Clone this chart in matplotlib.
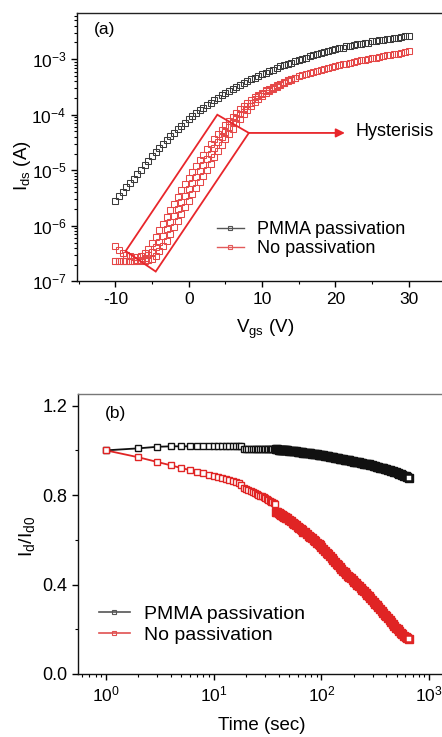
import numpy as np
import matplotlib
matplotlib.use('Agg')
import matplotlib.pyplot as plt
from matplotlib.lines import Line2D
from matplotlib.patches import Polygon
from matplotlib.ticker import MultipleLocator, LogLocator, NullFormatter, FormatStrFormatter

plt.rcParams['font.family'] = ['Liberation Sans', 'DejaVu Sans']
plt.rcParams['mathtext.default'] = 'regular'
plt.rcParams['axes.unicode_minus'] = False

# ---- panel (a): transfer curves, gate sweep in 0.5 V steps ----
vgs = [-10, -9.5, -9, -8.5, -8, -7.5, -7, -6.5, -6, -5.5,
       -5, -4.5, -4, -3.5, -3, -2.5, -2, -1.5, -1, -0.5,
       0, 0.5, 1, 1.5, 2, 2.5, 3, 3.5, 4, 4.5,
       5, 5.5, 6, 6.5, 7, 7.5, 8, 8.5, 9, 9.5,
       10, 10.5, 11, 11.5, 12, 12.5, 13, 13.5, 14, 14.5,
       15, 15.5, 16, 16.5, 17, 17.5, 18, 18.5, 19, 19.5,
       20, 20.5, 21, 21.5, 22, 22.5, 23, 23.5, 24, 24.5,
       25, 25.5, 26, 26.5, 27, 27.5, 28, 28.5, 29, 29.5, 30]

# log10(Ids / A)
log_pmma = [-5.55, -5.47, -5.39, -5.31, -5.23, -5.15, -5.07, -4.99, -4.91, -4.83,
            -4.75, -4.67, -4.60, -4.53, -4.46, -4.39, -4.33, -4.26, -4.20, -4.14,
            -4.08, -4.02, -3.97, -3.92, -3.87, -3.82, -3.78, -3.73, -3.69, -3.65,
            -3.61, -3.57, -3.53, -3.50, -3.46, -3.43, -3.39, -3.36, -3.33, -3.30,
            -3.27, -3.24, -3.21, -3.19, -3.16, -3.13, -3.11, -3.08, -3.06, -3.04,
            -3.01, -2.99, -2.97, -2.95, -2.93, -2.91, -2.89, -2.87, -2.85, -2.84,
            -2.82, -2.80, -2.79, -2.77, -2.76, -2.75, -2.73, -2.72, -2.71, -2.70,
            -2.68, -2.67, -2.66, -2.65, -2.64, -2.63, -2.62, -2.61, -2.60, -2.59, -2.58]

log_nopass_1 = [-6.36, -6.44, -6.49, -6.53, -6.55, -6.56, -6.56, -6.54, -6.49, -6.41,
                -6.31, -6.20, -6.08, -5.96, -5.84, -5.72, -5.60, -5.48, -5.36, -5.25,
                -5.14, -5.03, -4.92, -4.82, -4.72, -4.62, -4.53, -4.44, -4.35, -4.27,
                -4.19, -4.11, -4.04, -3.97, -3.90, -3.84, -3.78, -3.73, -3.68, -3.64,
                -3.60, -3.56, -3.53, -3.50, -3.47, -3.44, -3.41, -3.38, -3.36, -3.33,
                -3.31, -3.29, -3.27, -3.25, -3.23, -3.21, -3.19, -3.17, -3.15, -3.14,
                -3.12, -3.11, -3.09, -3.08, -3.06, -3.05, -3.04, -3.02, -3.01, -3.00,
                -2.98, -2.97, -2.96, -2.95, -2.93, -2.92, -2.91, -2.90, -2.88, -2.87, -2.86]

# the other two sweeps, -10 V .. 14.5 V (they merge with the first above that)
log_nopass_2 = [-6.63, -6.63, -6.63, -6.63, -6.63, -6.63, -6.62, -6.61, -6.58, -6.53,
                -6.47, -6.39, -6.29, -6.18, -6.06, -5.94, -5.82, -5.70, -5.58, -5.46,
                -5.34, -5.23, -5.12, -5.01, -4.90, -4.80, -4.70, -4.60, -4.50, -4.40,
                -4.31, -4.22, -4.13, -4.06, -3.98, -3.90, -3.84, -3.78, -3.72, -3.67,
                -3.63, -3.58, -3.55, -3.51, -3.48, -3.45, -3.42, -3.38, -3.36, -3.33]
log_nopass_3 = [-6.63, -6.63, -6.63, -6.63, -6.63, -6.63, -6.63, -6.63, -6.63, -6.62,
                -6.60, -6.55, -6.46, -6.37, -6.27, -6.15, -6.03, -5.91, -5.79, -5.67,
                -5.55, -5.43, -5.32, -5.21, -5.10, -4.99, -4.88, -4.77, -4.65, -4.54,
                -4.44, -4.34, -4.25, -4.15, -4.07, -3.99, -3.91, -3.84, -3.77, -3.71,
                -3.66, -3.61, -3.57, -3.53, -3.50, -3.46, -3.43, -3.40, -3.37, -3.34]

# ---- panel (b): normalised drain current vs time ----
time_s = [1, 2, 3, 4, 5, 6, 7, 8, 9, 10, 11, 12, 13, 14, 15, 16, 17, 18, 19, 20,
          21, 22, 23, 24, 25, 26, 27, 28, 29, 30, 31, 32, 33, 34, 35, 36, 37,
          38, 39, 40, 41, 42, 43, 44, 45, 46, 47, 48, 50, 52, 54, 56, 58, 60, 62,
          64, 66, 68, 70, 73, 76, 79, 82, 85, 88, 91, 94, 97, 100, 104, 108, 112,
          116, 120, 124, 128, 133, 138, 143, 148, 153, 158, 164, 170, 176, 182, 188,
          195, 202, 209, 216, 224, 232, 240, 248, 257, 266, 275, 285, 295, 305, 316,
          327, 338, 350, 362, 375, 388, 401, 415, 430, 445, 460, 476, 493, 510, 528,
          546, 565, 585, 605, 626, 648]

ratio_pmma = [1.000, 1.009, 1.016, 1.018, 1.018, 1.018, 1.018, 1.018, 1.018, 1.018,
              1.018, 1.018, 1.018, 1.018, 1.018, 1.018, 1.018, 1.018, 1.008, 1.008,
              1.008, 1.008, 1.008, 1.008, 1.008, 1.008, 1.008, 1.008, 1.008, 1.008,
              1.008, 1.008, 1.008, 1.008, 1.008, 1.008, 1.005,
              1.004, 1.004, 1.003, 1.003, 1.002, 1.002, 1.001, 1.001, 1.000, 1.000,
              1.000, 0.999, 0.998, 0.997, 0.996, 0.995, 0.994, 0.993, 0.992, 0.991,
              0.990, 0.990, 0.989, 0.987, 0.986, 0.985, 0.984, 0.983, 0.982, 0.981,
              0.980, 0.979, 0.977, 0.976, 0.974, 0.973, 0.972, 0.970, 0.969, 0.968,
              0.966, 0.965, 0.963, 0.962, 0.961, 0.959, 0.958, 0.956, 0.955, 0.953,
              0.952, 0.950, 0.949, 0.947, 0.946, 0.944, 0.943, 0.941, 0.940, 0.938,
              0.937, 0.935, 0.933, 0.931, 0.929, 0.927, 0.925, 0.923, 0.921, 0.919,
              0.917, 0.915, 0.913, 0.911, 0.909, 0.906, 0.904, 0.901, 0.899, 0.896,
              0.893, 0.890, 0.887, 0.884, 0.880, 0.877]

ratio_nopass = [1.000, 0.969, 0.948, 0.933, 0.921, 0.912, 0.904, 0.898, 0.892, 0.887,
                0.882, 0.877, 0.872, 0.867, 0.862, 0.857, 0.852, 0.847, 0.830, 0.826,
                0.822, 0.818, 0.814, 0.810, 0.806, 0.802, 0.798, 0.794, 0.790, 0.786,
                0.782, 0.778, 0.775, 0.771, 0.768, 0.764, 0.760,
                0.726, 0.723, 0.720, 0.716, 0.713, 0.710, 0.707, 0.704, 0.701, 0.698,
                0.696, 0.690, 0.684, 0.677, 0.671, 0.665, 0.659, 0.653, 0.648, 0.642,
                0.637, 0.633, 0.626, 0.619, 0.613, 0.606, 0.600, 0.594, 0.587, 0.581,
                0.576, 0.570, 0.561, 0.552, 0.543, 0.535, 0.527, 0.519, 0.511, 0.502,
                0.494, 0.486, 0.478, 0.470, 0.462, 0.455, 0.448, 0.440, 0.434, 0.427,
                0.420, 0.413, 0.406, 0.399, 0.392, 0.384, 0.377, 0.371, 0.363, 0.355,
                0.347, 0.339, 0.331, 0.323, 0.315, 0.307, 0.299, 0.291, 0.283, 0.274,
                0.266, 0.258, 0.250, 0.242, 0.233, 0.224, 0.216, 0.207, 0.199, 0.192,
                0.185, 0.179, 0.172, 0.166, 0.160, 0.155]

labels = ['PMMA passivation', 'No passivation']

BLK = '#3a3a3a'
RED_A = '#e54848'
RED = '#e02424'
BOX = '#e8262b'

fig = plt.figure(figsize=(4.42, 7.37), dpi=100)
ax1 = fig.add_axes([0.174, 0.6183, 0.836, 0.3641])
ax2 = fig.add_axes([0.1765, 0.0855, 0.8335, 0.3799])

# ---------------- (a) ----------------
v = np.array(vgs)
mk = dict(marker='s', ls='none', ms=3.7, mew=0.75, mfc='none')
ax1.plot(v, 10.0 ** np.array(log_pmma), color=BLK, **mk)
ax1.plot(v, 10.0 ** np.array(log_nopass_1), color=RED_A, **mk)
ax1.plot(v[:len(log_nopass_2)], 10.0 ** np.array(log_nopass_2), color=RED_A, **mk)
ax1.plot(v[:len(log_nopass_3)], 10.0 ** np.array(log_nopass_3), color=RED_A, **mk)

ax1.set_yscale('log')
ax1.set_xlim(-15.25, 35.15)
ax1.set_ylim(1e-7, 6.8e-3)
ax1.xaxis.set_major_locator(MultipleLocator(10))
ax1.xaxis.set_minor_locator(MultipleLocator(5))
ax1.yaxis.set_major_locator(LogLocator(base=10, numticks=10))
ax1.yaxis.set_minor_locator(LogLocator(base=10, subs=np.arange(2, 10), numticks=20))
ax1.yaxis.set_minor_formatter(NullFormatter())

# hysteresis box and arrow
box = Polygon([(-8.6, 3.5e-7), (3.9, 1.0e-4), (8.2, 4.7e-5), (-4.5, 1.5e-7)],
              closed=True, fill=False, ec=BOX, lw=1.3, zorder=5)
ax1.add_patch(box)
ax1.annotate('', xy=(21.3, 4.7e-5), xytext=(8.2, 4.7e-5),
             arrowprops=dict(arrowstyle='-|>', color=BOX, lw=1.3, mutation_scale=13,
                             shrinkA=0, shrinkB=0), zorder=5)
ax1.text(22.8, 4.9e-5, 'Hysterisis', fontsize=13, va='center', ha='left')
ax1.text(0.047, 0.937, '(a)', transform=ax1.transAxes, fontsize=12.5, va='center')

ax1.set_xlabel('V$_{gs}$ (V)', fontsize=13.5)
ax1.set_ylabel('I$_{ds}$ (A)', fontsize=13.5)
ax1.xaxis.set_label_coords(0.51, -0.135)
ax1.yaxis.set_label_coords(-0.118, 0.43)

h1 = [Line2D([], [], color='#555555', lw=1.0, marker='s', ms=2.8, mfc='none', mew=0.8),
      Line2D([], [], color='#e35a5a', lw=1.0, marker='s', ms=2.8, mfc='none', mew=0.8)]
ax1.legend(h1, labels, loc='upper left', bbox_to_anchor=(0.378, 0.225), frameon=False,
           fontsize=13, handlelength=1.5, handletextpad=0.75, labelspacing=0.12,
           borderpad=0, borderaxespad=0)

# ---------------- (b) ----------------
t = np.array(time_s)
n_sparse = 37
for y, col in [(ratio_pmma, '#111111'), (ratio_nopass, RED)]:
    y = np.array(y)
    ax2.plot(t, y, '-', color=col, lw=1.3, zorder=2)
    ax2.plot(t[:n_sparse], y[:n_sparse], 's', color=col, ms=4.6, mew=1.0, mfc='white', zorder=3)
    ax2.plot(t[n_sparse:], y[n_sparse:], 's', color=col, ms=5.4, mew=1.0, mfc=col, zorder=3)
    ax2.plot(t[-1:], y[-1:], 's', color=col, ms=5.0, mew=1.1, mfc='white', zorder=4)

ax2.set_xscale('log')
ax2.set_xlim(0.55, 1445)
ax2.set_ylim(0, 1.252)
ax2.yaxis.set_major_locator(MultipleLocator(0.4))
ax2.yaxis.set_minor_locator(MultipleLocator(0.2))
ax2.yaxis.set_major_formatter(FormatStrFormatter('%.1f'))
ax2.xaxis.set_major_locator(LogLocator(base=10, numticks=10))
ax2.xaxis.set_minor_locator(LogLocator(base=10, subs=np.arange(2, 10), numticks=20))
ax2.xaxis.set_minor_formatter(NullFormatter())

ax2.text(0.073, 0.931, '(b)', transform=ax2.transAxes, fontsize=12.5, va='center')
ax2.set_xlabel('Time (sec)', fontsize=13.5)
ax2.set_ylabel('I$_d$/I$_{d0}$', fontsize=14)
ax2.xaxis.set_label_coords(0.5, -0.153)
ax2.yaxis.set_label_coords(-0.112, 0.49)

h2 = [Line2D([], [], color='#555555', lw=1.2, marker='s', ms=3.0, mfc='none', mew=0.8),
      Line2D([], [], color='#e05050', lw=1.2, marker='s', ms=3.0, mfc='none', mew=0.8)]
ax2.legend(h2, labels, loc='upper left', bbox_to_anchor=(0.058, 0.245), frameon=False,
           fontsize=14, handlelength=1.55, handletextpad=0.72, labelspacing=0.15,
           borderpad=0, borderaxespad=0)

for ax, top_col in [(ax1, '#222222'), (ax2, '#777777')]:
    for s in ax.spines.values():
        s.set_linewidth(1.0)
        s.set_color('#111111')
    ax.spines['top'].set_color(top_col)
    ax.tick_params(which='major', direction='out', length=4, width=1.0)
    ax.tick_params(which='minor', direction='out', length=2.3, width=0.8)
    ax.tick_params(top=False, right=False, which='both')

ax1.tick_params(axis='x', labelsize=12.5)
ax1.tick_params(axis='y', labelsize=12.5)
ax2.tick_params(axis='y', labelsize=13)
ax2.tick_params(axis='x', labelsize=12.5)

fig.savefig('out.png', dpi=100)
